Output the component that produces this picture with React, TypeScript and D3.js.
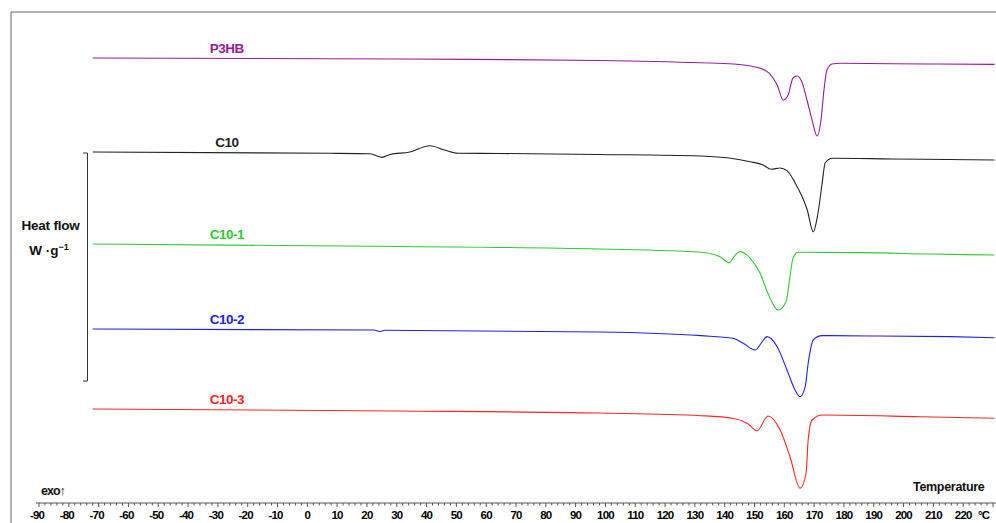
import React from "react";
import { scaleLinear, line, curveMonotoneX, range } from "d3";

// temperature (°C) / heat flow (W/g, shifted per curve)
const p3hbT = [-72, 31, 98, 132, 143, 152, 155, 157.6, 159.6, 161.3, 162.9, 164.3, 165.9, 167.6, 169.3, 171, 172.3, 173.3, 174.3, 176, 178.7, 208, 230.5];
const p3hbHF = [3.904, 3.895, 3.882, 3.862, 3.851, 3.813, 3.769, 3.667, 3.535, 3.579, 3.728, 3.746, 3.693, 3.535, 3.36, 3.219, 3.36, 3.623, 3.798, 3.851, 3.857, 3.851, 3.848];

const c10T = [-72, 7.6, 21, 25, 27.7, 34.4, 41.1, 46.1, 50.5, 64.6, 98, 132, 148.5, 152.9, 155.6, 158.6, 160.9, 164.3, 167.7, 169.7, 171.3, 172.7, 173.7, 176, 196, 230.5];
const c10HF = [3.079, 3.068, 3.063, 3.032, 3.057, 3.079, 3.134, 3.096, 3.068, 3.066, 3.057, 3.044, 2.994, 2.965, 2.927, 2.939, 2.915, 2.775, 2.57, 2.38, 2.544, 2.807, 2.982, 3.024, 3.018, 3.009];

const c101T = [-72, 31, 98, 132, 138.4, 141.5, 143.5, 145.1, 148.5, 151.9, 154.5, 157.9, 160.6, 161.9, 162.9, 164.6, 186.4, 209, 230.5];
const c101HF = [2.272, 2.25, 2.228, 2.199, 2.161, 2.108, 2.175, 2.205, 2.149, 2.015, 1.839, 1.693, 1.766, 1.985, 2.146, 2.199, 2.196, 2.184, 2.175];

const c102T = [-72, 22.5, 24.2, 26, 98, 132, 142.8, 146.2, 150.2, 152.6, 154.2, 157.6, 160.9, 163.6, 165.3, 167, 168, 169.7, 172.7, 188.8, 215.6, 230.5];
const c102HF = [1.526, 1.517, 1.504, 1.515, 1.5, 1.468, 1.445, 1.401, 1.342, 1.415, 1.459, 1.371, 1.167, 0.991, 0.932, 1.02, 1.225, 1.43, 1.468, 1.465, 1.459, 1.45];

const c103T = [-72, 31, 98, 132, 142.8, 147.5, 150.9, 154.5, 158.6, 161.9, 165.3, 167.3, 168, 169.3, 172.7, 205.5, 230.5];
const c103HF = [0.825, 0.807, 0.789, 0.766, 0.743, 0.699, 0.634, 0.763, 0.64, 0.406, 0.129, 0.261, 0.553, 0.728, 0.772, 0.757, 0.743];

const seriesNames = ["P3HB", "C10", "C10-1", "C10-2", "C10-3"];
const seriesColors = ["#991a99", "#222222", "#2ecc2e", "#2020f0", "#ff2424"];
const seriesTemps = [p3hbT, c10T, c101T, c102T, c103T];
const seriesValues = [p3hbHF, c10HF, c101HF, c102HF, c103HF];

const majorTicks = range(-90, 221, 10);
const minorTicks = range(-90, 231, 2);
const scaleBar = [1.07, 3.07]; // 2 W/g

const W = 996;
const H = 523;
const axisY = 503;

const App = () => {
  const x = scaleLinear().domain([-90, 230]).range([39, 993]);
  const y = scaleLinear().domain([0, 4.3]).range([axisY, 12.8]);

  const path = line<[number, number]>()
    .x((d) => x(d[0]))
    .y((d) => y(d[1]))
    .curve(curveMonotoneX);

  const font = "'Liberation Sans', Arial, sans-serif";

  return (
    <svg
      width={W}
      height={H}
      style={{ position: "absolute", left: 0, top: 0, background: "#fff" }}
      fontFamily={font}
    >
      {/* frame */}
      <line x1={11} x2={W} y1={12} y2={12} stroke="#666" strokeWidth={1} />
      <line x1={11} x2={11} y1={12} y2={H} stroke="#666" strokeWidth={1} />

      {/* curves */}
      {seriesNames.map((name, i) => {
        const pts = seriesTemps[i].map((t, j) => [t, seriesValues[i][j]] as [number, number]);
        return (
          <g key={name}>
            <path d={path(pts) || ""} fill="none" stroke={seriesColors[i]} strokeWidth={1.1} />
            <text
              x={x(-27)}
              y={y(seriesValues[i][0]) - 5}
              textAnchor="middle"
              fontSize={13.5}
              fontWeight="bold"
              letterSpacing={-0.5}
              fill={seriesColors[i]}
            >
              {name}
            </text>
          </g>
        );
      })}

      {/* heat flow scale bar */}
      <g stroke="#333" strokeWidth={1}>
        <line x1={87.5} x2={87.5} y1={y(scaleBar[1])} y2={y(scaleBar[0])} />
        <line x1={83} x2={87.5} y1={y(scaleBar[1])} y2={y(scaleBar[1])} />
        <line x1={83} x2={87.5} y1={y(scaleBar[0])} y2={y(scaleBar[0])} />
      </g>
      <text x={50.5} y={230} textAnchor="middle" fontSize={13.5} fontWeight="bold" letterSpacing={-0.2} fill="#111">
        Heat flow
      </text>
      <text x={49} y={255} textAnchor="middle" fontSize={13.5} fontWeight="bold" fill="#111">
        W ·g<tspan dy={-5} fontSize={9}>−1</tspan>
      </text>

      {/* x axis */}
      <line x1={x(-91)} x2={W} y1={axisY} y2={axisY} stroke="#555" strokeWidth={1} />
      {minorTicks.map((t) => (
        <line
          key={"m" + t}
          x1={x(t)}
          x2={x(t)}
          y1={axisY}
          y2={axisY + (t % 10 === 0 ? 4 : 2.5)}
          stroke="#555"
          strokeWidth={1}
        />
      ))}
      {majorTicks.map((t) => (
        <text
          key={"l" + t}
          x={x(t) - (t < 0 ? 2 : 0)}
          y={519}
          textAnchor="middle"
          fontSize={11.5}
          fontWeight="bold"
          letterSpacing={-0.8}
          fill="#000"
        >
          {t < 0 ? "-" + Math.abs(t) : t}
        </text>
      ))}
      <text x={978} y={519} fontSize={11.5} fontWeight="bold" letterSpacing={-0.8} fill="#000">
        °C
      </text>
      <text x={41} y={495} fontSize={12.5} fontWeight="bold" letterSpacing={-1} fill="#111">
        exo↑
      </text>
      <text x={913} y={491} fontSize={12.5} fontWeight="bold" letterSpacing={-0.3} fill="#111">
        Temperature
      </text>
    </svg>
  );
};

export default App;
